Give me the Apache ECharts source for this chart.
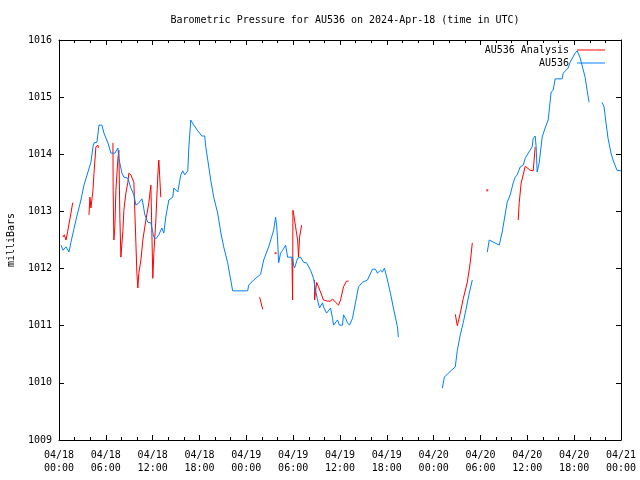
<!DOCTYPE html>
<html><head><meta charset="utf-8">
<script src="https://cdn.jsdelivr.net/npm/echarts@6/dist/echarts.min.js"></script>
<style>html,body{margin:0;padding:0;background:#fff}#c{width:640px;height:480px}</style>
</head><body><div id="c"></div>
<script>
const xTickLabels = ['04/18\n00:00','04/18\n06:00','04/18\n12:00','04/18\n18:00','04/19\n00:00','04/19\n06:00','04/19\n12:00','04/19\n18:00','04/20\n00:00','04/20\n06:00','04/20\n12:00','04/20\n18:00','04/21\n00:00'];

// hours since 2024-04-18 00:00 UTC; null = gap
const blueHours = [0.26,0.51,0.9,1.28,1.53,2.17,2.81,3.2,3.71,4.09,4.35,4.48,4.86,5.12,5.5,5.76,6.27,6.65,7.16,7.55,7.67,8.06,8.31,8.82,9.21,9.59,9.85,10.23,10.62,10.74,11.0,11.38,11.77,12.15,12.41,12.79,13.17,13.43,13.68,14.07,14.58,14.71,15.22,15.6,15.86,16.11,16.5,16.63,16.88,17.27,17.9,18.29,18.67,18.8,19.06,19.44,19.82,20.33,20.72,21.1,21.61,22.0,22.25,24.17,24.3,24.94,25.83,26.22,26.86,27.5,27.75,27.88,28.01,28.14,28.39,28.65,29.03,29.29,29.93,30.05,30.18,30.57,30.95,31.33,31.72,32.23,32.61,32.87,33.12,33.38,33.76,33.89,34.28,34.53,34.79,35.04,35.17,35.68,35.94,36.32,36.45,36.71,36.96,37.22,37.6,37.98,38.37,38.88,39.52,40.16,40.54,40.8,41.18,41.44,41.69,42.08,42.46,42.84,43.36,43.48,
  null,
  49.11,49.37,49.88,50.77,51.03,51.41,51.8,52.18,52.56,52.95,
  null,
  54.87,55.12,56.4,56.78,57.42,57.81,58.19,58.45,58.7,59.09,59.47,59.73,60.11,60.62,60.75,61.01,61.13,61.26,61.52,61.9,62.28,62.67,63.05,63.31,63.56,64.46,64.59,65.23,65.48,66.12,66.38,66.76,67.4,67.66,67.91,
  null,
  69.57,69.83,70.08,70.34,70.72,70.98,71.49,72.0];
const bluePress = [1012.41,1012.32,1012.38,1012.29,1012.46,1012.85,1013.2,1013.46,1013.69,1013.86,1014.13,1014.2,1014.21,1014.51,1014.51,1014.37,1014.2,1014.02,1014.02,1014.11,1013.93,1013.67,1013.6,1013.58,1013.41,1013.29,1013.11,1013.15,1013.22,1013.15,1012.94,1012.81,1012.8,1012.55,1012.52,1012.59,1012.71,1012.62,1012.9,1013.2,1013.25,1013.41,1013.34,1013.64,1013.71,1013.64,1013.71,1014.11,1014.6,1014.51,1014.39,1014.32,1014.32,1014.13,1013.9,1013.55,1013.25,1012.97,1012.64,1012.38,1012.1,1011.8,1011.61,1011.61,1011.71,1011.8,1011.9,1012.15,1012.38,1012.67,1012.9,1012.76,1012.5,1012.1,1012.27,1012.32,1012.41,1012.2,1012.2,1012.06,1012.01,1012.18,1012.2,1012.11,1012.1,1011.97,1011.83,1011.62,1011.45,1011.31,1011.4,1011.33,1011.22,1011.22,1011.31,1011.13,1011.01,1011.1,1011.01,1011.01,1011.19,1011.13,1011.05,1011.01,1011.13,1011.4,1011.68,1011.76,1011.8,1011.99,1011.99,1011.92,1011.97,1011.94,1012.01,1011.8,1011.57,1011.31,1010.98,1010.8,
  null,
  1009.91,1010.1,1010.17,1010.28,1010.57,1010.84,1011.06,1011.31,1011.57,1011.8,
  null,
  1012.29,1012.5,1012.41,1012.64,1013.16,1013.29,1013.5,1013.6,1013.64,1013.78,1013.81,1013.93,1014.02,1014.13,1014.28,1014.32,1014.13,1013.69,1013.85,1014.3,1014.46,1014.6,1015.09,1015.12,1015.32,1015.32,1015.42,1015.51,1015.61,1015.77,1015.81,1015.69,1015.35,1015.12,1014.91,
  null,
  1014.91,1014.83,1014.55,1014.28,1014.02,1013.9,1013.72,1013.71];

const redHours = [0.5,0.68,0.9,1.11,1.53,1.75,
  null,
  3.84,3.96,4.09,4.35,4.48,4.73,4.99,5.03,
  null,
  6.91,6.94,7.03,7.16,7.29,7.55,7.67,7.8,7.93,8.19,8.31,8.57,8.82,8.95,9.21,9.59,9.85,9.98,10.1,10.23,10.49,10.74,11.13,11.51,11.77,12.02,12.15,12.41,12.66,12.79,13.04,
  null,
  25.71,26.09,
  null,
  29.84,29.93,29.97,30.05,30.31,30.57,30.69,30.82,31.08,
  null,
  32.74,32.75,33.0,33.25,33.89,34.4,34.79,35.04,35.43,35.81,36.07,36.45,36.83,37.09,
  null,
  50.77,51.03,51.41,51.8,52.31,52.69,52.95,
  null,
  58.83,58.96,59.21,59.47,59.73,59.98,60.36,60.75,61.01];
const redPress = [1012.55,1012.59,1012.5,1012.65,1012.97,1013.15,
  null,
  1012.94,1013.25,1013.06,1013.37,1013.67,1014.13,1014.16,1014.11,
  null,
  1014.2,1013.37,1012.5,1012.73,1013.37,1013.93,1014.07,1012.88,1012.2,1012.67,1013.02,1013.32,1013.51,1013.67,1013.64,1013.51,1012.45,1011.92,1011.66,1011.92,1012.15,1012.5,1012.85,1013.15,1013.46,1011.83,1012.27,1012.85,1013.64,1013.9,1013.25,
  null,
  1011.5,1011.29,
  null,
  1012.2,1011.45,1013.02,1012.97,1012.73,1012.5,1012.2,1012.55,1012.76,
  null,
  1011.8,1011.45,1011.76,1011.68,1011.45,1011.43,1011.43,1011.47,1011.41,1011.36,1011.45,1011.68,1011.78,1011.78,
  null,
  1011.2,1011.0,1011.22,1011.48,1011.76,1012.11,1012.45,
  null,
  1012.85,1013.15,1013.5,1013.64,1013.79,1013.78,1013.72,1013.71,1014.13];
const redDotHours = [27.75, 54.87];
const redDotPress = [1012.27, 1013.37];

function pairs(h, p) {
  return h.map((x, i) => (x === null || p[i] === null) ? ['-', '-'] : [x, p[i]]);
}

const FONT = 'DejaVu Sans Mono';
const chart = echarts.init(document.getElementById('c'));
const xCommon = {
  type: 'value', min: 0, max: 72, interval: 6,
  axisLine: { show: true, onZero: false, lineStyle: { color: '#000', width: 1 } },
  axisTick: { show: true, inside: true, length: 5, lineStyle: { color: '#000' } },
  minorTick: { show: true, splitNumber: 3, length: 3, lineStyle: { color: '#000' } },
  splitLine: { show: false }
};
const yCommon = {
  type: 'value', min: 1009, max: 1016, interval: 1,
  axisLine: { show: true, onZero: false, lineStyle: { color: '#000', width: 1 } },
  axisTick: { show: true, inside: true, length: 5, lineStyle: { color: '#000' } },
  splitLine: { show: false }
};
chart.setOption({
  animation: false,
  backgroundColor: '#fff',
  title: {
    text: 'Barometric Pressure for AU536 on 2024-Apr-18 (time in UTC)',
    left: 340, top: 10, textAlign: 'center',
    textStyle: { fontFamily: FONT, fontSize: 10, fontWeight: 'normal', color: '#000' }
  },
  legend: {
    orient: 'vertical', right: 30, top: 39, align: 'right',
    icon: 'rect', itemWidth: 28, itemHeight: 1, itemGap: 1,
    data: ['AU536 Analysis', 'AU536'],
    textStyle: { fontFamily: FONT, fontSize: 10, color: '#000', lineHeight: 12, padding: [0, 3, 0, 0] }
  },
  grid: { left: 59, right: 19, top: 40, bottom: 40, outerBoundsMode: 'none', containLabel: false },
  xAxis: [
    Object.assign({}, xCommon, {
      position: 'bottom',
      axisLabel: { show: true, margin: 9, lineHeight: 13, fontFamily: FONT, fontSize: 10, color: '#000',
        hideOverlap: false, showMinLabel: true, showMaxLabel: true,
        formatter: (v) => xTickLabels[Math.round(v / 6)] }
    }),
    Object.assign({}, xCommon, { position: 'top', axisLabel: { show: false } })
  ],
  yAxis: [
    Object.assign({}, yCommon, {
      position: 'left',
      name: 'milliBars', nameLocation: 'middle', nameGap: 43,
      nameTextStyle: { fontFamily: FONT, fontSize: 10, color: '#000' },
      axisLabel: { show: true, margin: 7, fontFamily: FONT, fontSize: 10, color: '#000',
        formatter: (v) => String(v) }
    }),
    Object.assign({}, yCommon, { position: 'right', axisLabel: { show: false } })
  ],
  series: [
    {
      name: 'AU536 Analysis', type: 'line', symbol: 'none', connectNulls: false,
      data: pairs(redHours, redPress),
      lineStyle: { color: '#ff0000', width: 1 }, itemStyle: { color: '#ff0000' }
    },
    {
      name: 'AU536', type: 'line', symbol: 'none', connectNulls: false,
      data: pairs(blueHours, bluePress),
      lineStyle: { color: '#0080ff', width: 1 }, itemStyle: { color: '#0080ff' }
    },
    {
      name: 'dots', type: 'scatter', symbol: 'rect', symbolSize: 2,
      data: pairs(redDotHours, redDotPress),
      itemStyle: { color: '#ff0000' }
    }
  ]
});
</script>
</body></html>
